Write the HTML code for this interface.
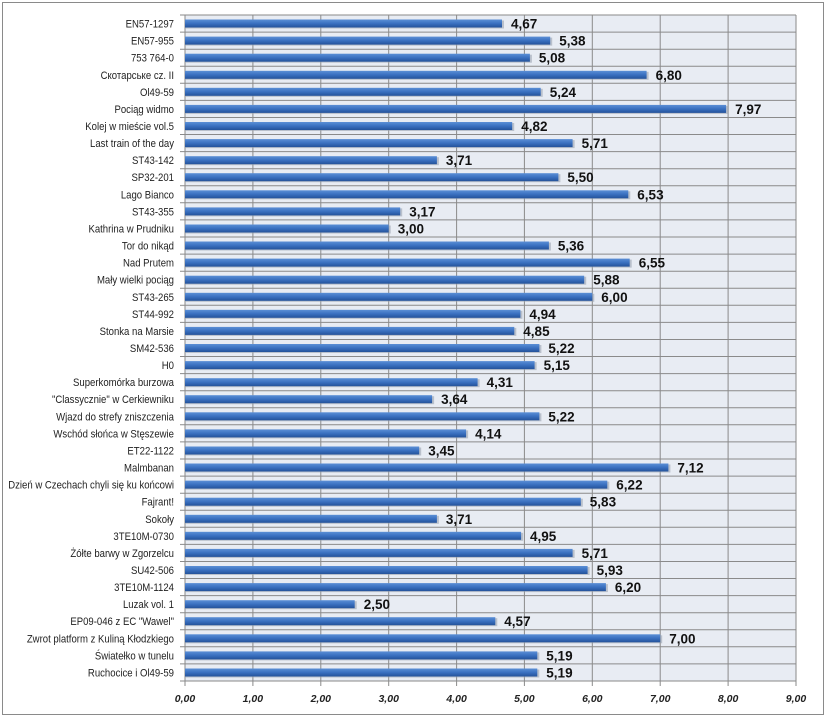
<!DOCTYPE html>
<html><head><meta charset="utf-8"><style>
html,body{margin:0;padding:0;background:#fff;}
svg{display:block;}
.c{font-family:"Liberation Sans",sans-serif;font-size:11px;fill:#222;}
.v{font-family:"Liberation Sans",sans-serif;font-size:13.5px;font-weight:bold;fill:#111;}
.t{font-family:"Liberation Sans",sans-serif;font-size:10.5px;font-style:italic;font-weight:bold;fill:#222;}
</style></head><body>
<svg id="s" width="826" height="717" xmlns="http://www.w3.org/2000/svg">
<defs><linearGradient id="g" x1="0" y1="0" x2="0" y2="1">
<stop offset="0" stop-color="#5b8fd6"/><stop offset="0.5" stop-color="#3a70c0"/><stop offset="1" stop-color="#24529a"/></linearGradient></defs>
<rect x="2.5" y="2.5" width="821" height="712" fill="#fff" stroke="#8a8a8a"/>
<rect x="185" y="15" width="611" height="666" fill="#e8ecf3"/>
<g id="grid"></g>
<g id="bars"></g>
</svg>
<script>
var d=[["EN57-1297",4.67],["EN57-955",5.38],["753 764-0",5.08],["Скотарське cz. II",6.80],["Ol49-59",5.24],["Pociąg widmo",7.97],["Kolej w mieście vol.5",4.82],["Last train of the day",5.71],["ST43-142",3.71],["SP32-201",5.50],["Lago Bianco",6.53],["ST43-355",3.17],["Kathrina w Prudniku",3.00],["Tor do nikąd",5.36],["Nad Prutem",6.55],["Mały wielki pociąg",5.88],["ST43-265",6.00],["ST44-992",4.94],["Stonka na Marsie",4.85],["SM42-536",5.22],["H0",5.15],["Superkomórka burzowa",4.31],["\"Classycznie\" w Cerkiewniku",3.64],["Wjazd do strefy zniszczenia",5.22],["Wschód słońca w Stęszewie",4.14],["ET22-1122",3.45],["Malmbanan",7.12],["Dzień w Czechach chyli się ku końcowi",6.22],["Fajrant!",5.83],["Sokoły",3.71],["3TE10M-0730",4.95],["Żółte barwy w Zgorzelcu",5.71],["SU42-506",5.93],["3TE10M-1124",6.20],["Luzak vol. 1",2.50],["EP09-046 z EC \"Wawel\"",4.57],["Zwrot platform z Kuliną Kłodzkiego",7.00],["Światełko w tunelu",5.19],["Ruchocice i Ol49-59",5.19]];
var L=185,T=15,W=611,H=666,n=d.length,rh=H/n,u=W/9,h='',b='';
for(var i=0;i<=n;i++){var y=(T+i*rh).toFixed(1);h+='<line x1="'+(L-5)+'" x2="'+(L+W)+'" y1="'+y+'" y2="'+y+'" stroke="#8a8a8a" stroke-width="1"/>';}
for(var k=0;k<=9;k++){var x=(L+k*u).toFixed(1);h+='<line x1="'+x+'" x2="'+x+'" y1="'+T+'" y2="'+(T+H+5)+'" stroke="#8a8a8a" stroke-width="1"/>';h+='<text class="t" x="'+x+'" y="702" text-anchor="middle">'+k+',00</text>';}
for(var i=0;i<n;i++){var cy=T+(i+0.5)*rh,w=d[i][1]*u;
b+='<rect x="'+L+'" y="'+(cy-3).toFixed(1)+'" width="'+(w+2).toFixed(1)+'" height="8" fill="#9aa3b0" opacity="0.6"/>';
b+='<rect x="'+L+'" y="'+(cy-4).toFixed(1)+'" width="'+w.toFixed(1)+'" height="8" fill="url(#g)"/>';
b+='<text class="v" x="'+(L+w+9).toFixed(1)+'" y="'+(cy+5).toFixed(1)+'">'+d[i][1].toFixed(2).replace('.',',')+'</text>';
b+='<text class="c" transform="translate(174 '+(cy+4).toFixed(1)+') scale(0.87 1)" text-anchor="end">'+d[i][0]+'</text>';}
document.getElementById('grid').innerHTML=h;document.getElementById('bars').innerHTML=b;
</script>
</body></html>
